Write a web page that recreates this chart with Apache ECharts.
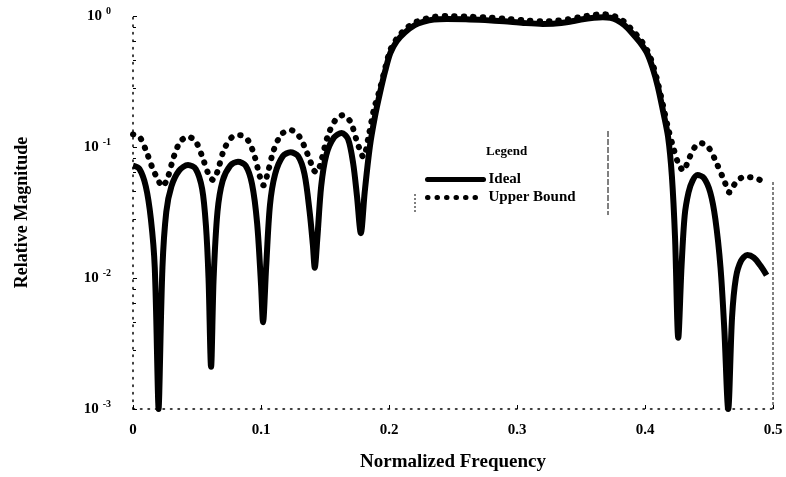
<!DOCTYPE html>
<html>
<head>
<meta charset="utf-8">
<script src="https://cdn.jsdelivr.net/npm/echarts@6/dist/echarts.min.js"></script>
<style>
html, body { margin: 0; padding: 0; background: #fff; }
#chart { width: 786px; height: 477px; }
</style>
</head>
<body>
<div id="chart"></div>
<script>
// Ideal response (solid)
var idealFreq = [0, 0.005, 0.010, 0.014, 0.017, 0.0195, 0.020, 0.0205, 0.023, 0.026, 0.030, 0.036, 0.043, 0.049, 0.054, 0.057, 0.059, 0.061, 0.063, 0.066, 0.070, 0.076, 0.082, 0.088, 0.093, 0.097, 0.100, 0.1016, 0.104, 0.107, 0.111, 0.117, 0.123, 0.129, 0.134, 0.138, 0.1405, 0.142, 0.144, 0.147, 0.151, 0.157, 0.163, 0.168, 0.172, 0.175, 0.178, 0.181, 0.185, 0.189, 0.193, 0.197, 0.201, 0.206, 0.2125, 0.220, 0.2266, 0.235, 0.245, 0.260, 0.275, 0.290, 0.305, 0.320, 0.330, 0.340, 0.350, 0.360, 0.367, 0.373, 0.378, 0.384, 0.390, 0.396, 0.4016, 0.406, 0.410, 0.414, 0.418, 0.421, 0.4235, 0.426, 0.4285, 0.431, 0.434, 0.437, 0.441, 0.446, 0.451, 0.455, 0.459, 0.462, 0.465, 0.468, 0.471, 0.475, 0.480, 0.485, 0.490, 0.495]
var idealMag = [0.072, 0.068, 0.050, 0.028, 0.012, 0.0013, 0.001, 0.0013, 0.012, 0.032, 0.050, 0.066, 0.073, 0.068, 0.048, 0.025, 0.010, 0.0021, 0.010, 0.032, 0.055, 0.072, 0.077, 0.072, 0.052, 0.026, 0.009, 0.0046, 0.012, 0.036, 0.062, 0.085, 0.091, 0.085, 0.062, 0.032, 0.018, 0.012, 0.020, 0.050, 0.087, 0.118, 0.128, 0.115, 0.075, 0.042, 0.022, 0.045, 0.10, 0.17, 0.26, 0.38, 0.52, 0.64, 0.75, 0.85, 0.90, 0.94, 0.95, 0.945, 0.93, 0.91, 0.885, 0.87, 0.875, 0.90, 0.94, 0.97, 0.98, 0.97, 0.93, 0.85, 0.74, 0.63, 0.52, 0.40, 0.29, 0.19, 0.12, 0.06, 0.02, 0.0035, 0.012, 0.030, 0.045, 0.055, 0.061, 0.058, 0.045, 0.028, 0.012, 0.004, 0.001, 0.005, 0.010, 0.0135, 0.015, 0.0143, 0.0125, 0.0105]

// Upper bound (dotted)
var upperFreq = [0, 0.005, 0.010, 0.015, 0.020, 0.023, 0.027, 0.032, 0.037, 0.043, 0.049, 0.054, 0.059, 0.0625, 0.066, 0.071, 0.077, 0.0836, 0.090, 0.095, 0.099, 0.102, 0.105, 0.110, 0.116, 0.123, 0.130, 0.136, 0.1415, 0.1437, 0.147, 0.152, 0.158, 0.164, 0.170, 0.175, 0.180, 0.184, 0.188, 0.193, 0.197, 0.201, 0.206, 0.2125, 0.220, 0.2266, 0.235, 0.245, 0.260, 0.275, 0.290, 0.305, 0.320, 0.330, 0.340, 0.350, 0.360, 0.367, 0.373, 0.378, 0.384, 0.390, 0.396, 0.4016, 0.406, 0.410, 0.414, 0.418, 0.422, 0.426, 0.430, 0.434, 0.439, 0.444, 0.450, 0.456, 0.462, 0.466, 0.470, 0.475, 0.480, 0.485, 0.490, 0.495]
var upperMag = [0.125, 0.12, 0.095, 0.07, 0.055, 0.05, 0.058, 0.085, 0.11, 0.12, 0.11, 0.085, 0.062, 0.056, 0.065, 0.095, 0.118, 0.123, 0.112, 0.085, 0.06, 0.051, 0.062, 0.095, 0.125, 0.135, 0.12, 0.09, 0.066, 0.064, 0.078, 0.12, 0.16, 0.175, 0.155, 0.11, 0.084, 0.12, 0.19, 0.28, 0.40, 0.55, 0.67, 0.79, 0.89, 0.94, 0.985, 1.0, 0.99, 0.975, 0.955, 0.93, 0.91, 0.92, 0.945, 0.985, 1.02, 1.03, 1.02, 0.98, 0.90, 0.78, 0.67, 0.55, 0.43, 0.31, 0.21, 0.14, 0.10, 0.075, 0.066, 0.080, 0.10, 0.107, 0.098, 0.075, 0.055, 0.045, 0.052, 0.058, 0.059, 0.058, 0.056, 0.054]

var xTicks = [0, 0.1, 0.2, 0.3, 0.4, 0.5]
var xTickLabels = ['0', '0.1', '0.2', '0.3', '0.4', '0.5']
var yTickValues = [0.001, 0.01, 0.1, 1]
var yTickExponents = ['-3', '-2', '-1', '0']

var font = 'Liberation Serif'
function pairs(xs, ys) {
    return xs.map(function (x, i) { return [x, ys[i]] })
}

var myChart = echarts.init(document.getElementById('chart'))
var option = {
    backgroundColor: '#fff',
    animation: false,
    grid: { left: 133, right: 13, top: 16, bottom: 68 },
    legend: {
        orient: 'vertical',
        left: 420,
        top: 167,
        itemWidth: 56,
        itemHeight: 12,
        itemGap: 3,
        itemStyle: { color: 'transparent', borderColor: 'transparent', borderWidth: 0 },
        lineStyle: { width: 5, cap: 'round' },
        textStyle: { fontFamily: font, fontWeight: 'bold', fontSize: 15, color: '#000' },
        data: ['Ideal', 'Upper Bound']
    },
    xAxis: {
        type: 'value',
        min: 0,
        max: 0.5,
        interval: 0.1,
        name: 'Normalized Frequency',
        nameLocation: 'middle',
        nameGap: 44,
        nameTextStyle: { fontFamily: font, fontWeight: 'bold', fontSize: 19, color: '#000' },
        axisLine: { show: true, lineStyle: { color: '#000', type: [1.5, 6], width: 1.5 } },
        axisTick: { show: true, inside: true, length: 4, lineStyle: { color: '#000' } },
        splitLine: { show: false },
        axisLabel: {
            margin: 14,
            fontFamily: font,
            fontWeight: 'bold',
            fontSize: 15,
            color: '#000',
            formatter: function (v) {
                var i = xTicks.findIndex(function (t) { return Math.abs(t - v) < 1e-9 })
                return i >= 0 ? xTickLabels[i] : ''
            }
        }
    },
    yAxis: {
        type: 'log',
        logBase: 10,
        min: 0.001,
        max: 1,
        name: 'Relative Magnitude',
        nameLocation: 'middle',
        nameRotate: 90,
        nameGap: 102,
        nameTextStyle: { fontFamily: font, fontWeight: 'bold', fontSize: 18, color: '#000' },
        axisLine: { show: true, lineStyle: { color: '#000', type: [1.5, 6], width: 1.5 } },
        axisTick: { show: true, inside: true, length: 4, lineStyle: { color: '#000' } },
        minorTick: { show: true, splitNumber: 5, length: 3, lineStyle: { color: '#000' } },
        splitLine: { show: false },
        axisLabel: {
            margin: 22,
            color: '#000',
            formatter: function (v) {
                var i = yTickValues.findIndex(function (t) { return Math.abs(Math.log10(t) - Math.log10(v)) < 1e-6 })
                return i >= 0 ? '{b|10}{s|' + yTickExponents[i] + '}' : ''
            },
            rich: {
                b: { fontFamily: font, fontWeight: 'bold', fontSize: 15, lineHeight: 20, color: '#000' },
                s: { fontFamily: font, fontWeight: 'bold', fontSize: 10, verticalAlign: 'top', lineHeight: 10, padding: [0, 0, 0, 4], color: '#000' }
            }
        }
    },
    graphic: [
        { type: 'text', left: 486, top: 145, style: { text: 'Legend', fontFamily: font, fontWeight: 'bold', fontSize: 13, fill: '#000' } },
        { type: 'line', shape: { x1: 415, y1: 194, x2: 415, y2: 214 }, style: { stroke: '#000', lineWidth: 1, lineDash: [2, 2] } },
        { type: 'line', shape: { x1: 608, y1: 131, x2: 608, y2: 215 }, style: { stroke: '#000', lineWidth: 1, lineDash: [6, 2] } },
        { type: 'line', shape: { x1: 773, y1: 182, x2: 773, y2: 409 }, style: { stroke: '#000', lineWidth: 1, lineDash: [3, 2] } }
    ],
    series: [
        {
            name: 'Upper Bound',
            type: 'line',
            symbol: 'none',
            smooth: 0.3,
            clip: false,
            lineStyle: { color: '#000', width: 6, type: [0.5, 9], cap: 'round' },
            itemStyle: { color: '#000' },
            data: pairs(upperFreq, upperMag)
        },
        {
            name: 'Ideal',
            type: 'line',
            symbol: 'none',
            smooth: 0.3,
            clip: false,
            lineStyle: { color: '#000', width: 6 },
            itemStyle: { color: '#000' },
            data: pairs(idealFreq, idealMag)
        }
    ]
}
myChart.setOption(option)
</script>
</body>
</html>
